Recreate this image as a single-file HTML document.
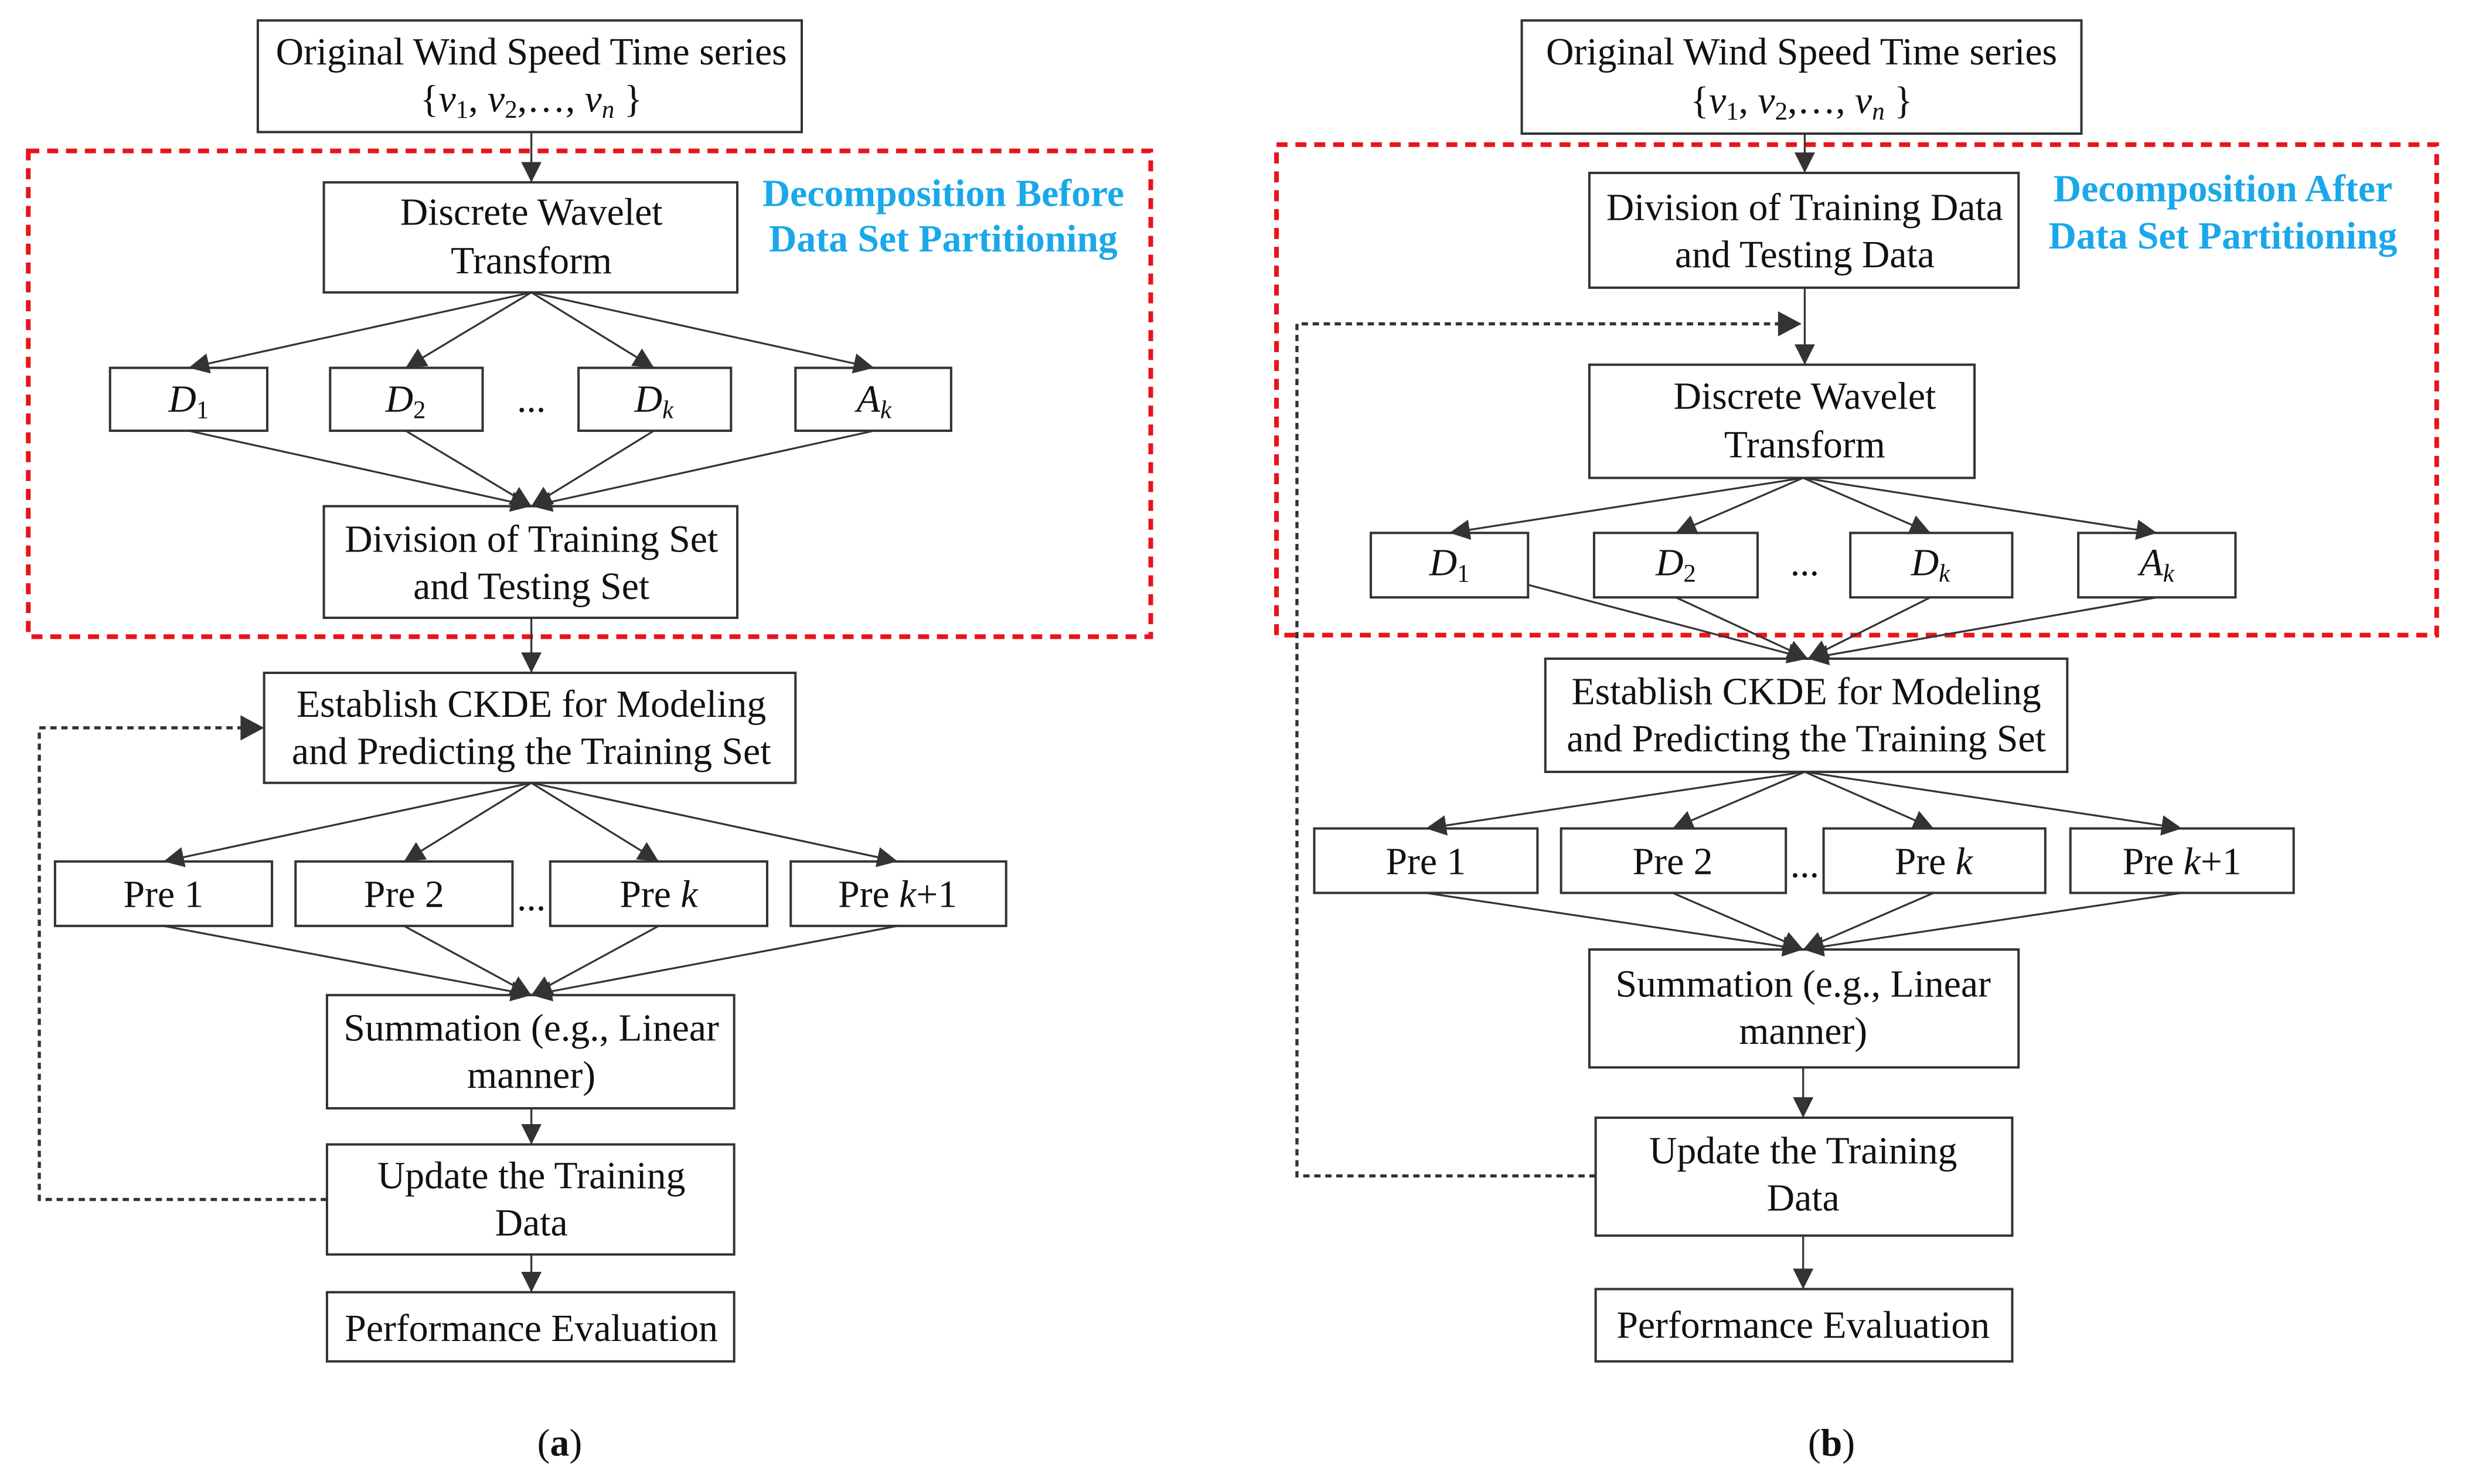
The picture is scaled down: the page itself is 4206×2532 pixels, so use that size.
<!DOCTYPE html>
<html><head><meta charset="utf-8"><style>
html,body{margin:0;padding:0;background:#fff;}
svg{display:block;}
text{font-family:"Liberation Serif",serif;font-size:24.5px;fill:#111;}
.b{font-family:"Liberation Serif",serif;font-weight:bold;fill:#1aa8ea;font-size:24.5px;}
</style></head><body>
<svg width="4206" height="2532" viewBox="0 0 1568 944" preserveAspectRatio="none" xmlns="http://www.w3.org/2000/svg">
<defs>
<marker id="a" viewBox="0 0 10 10" refX="10" refY="5" markerWidth="13" markerHeight="13" markerUnits="userSpaceOnUse" orient="auto"><path d="M0,0 L10,5 L0,10 z" fill="#333"/></marker>
</defs>
<g fill="none" stroke="#333" stroke-width="1.5">
<rect x="164" y="13" width="346" height="71"/>
<rect x="206" y="116" width="263" height="70"/>
<rect x="70" y="234" width="100" height="40"/>
<rect x="210" y="234" width="97" height="40"/>
<rect x="368" y="234" width="97" height="40"/>
<rect x="506" y="234" width="99" height="40"/>
<rect x="206" y="322" width="263" height="71"/>
<rect x="168" y="428" width="338" height="70"/>
<rect x="35" y="548" width="138" height="41"/>
<rect x="188" y="548" width="138" height="41"/>
<rect x="350" y="548" width="138" height="41"/>
<rect x="503" y="548" width="137" height="41"/>
<rect x="208" y="633" width="259" height="72"/>
<rect x="208" y="728" width="259" height="70"/>
<rect x="208" y="822" width="259" height="44"/>
<rect x="968" y="13" width="356" height="72"/>
<rect x="1011" y="110" width="273" height="73"/>
<rect x="1011" y="232" width="245" height="72"/>
<rect x="872" y="339" width="100" height="41"/>
<rect x="1014" y="339" width="104" height="41"/>
<rect x="1177" y="339" width="103" height="41"/>
<rect x="1322" y="339" width="100" height="41"/>
<rect x="983" y="419" width="332" height="72"/>
<rect x="836" y="527" width="142" height="41"/>
<rect x="993" y="527" width="143" height="41"/>
<rect x="1160" y="527" width="141" height="41"/>
<rect x="1317" y="527" width="142" height="41"/>
<rect x="1011" y="604" width="273" height="75"/>
<rect x="1015" y="711" width="265" height="75"/>
<rect x="1015" y="820" width="265" height="46"/>
</g>
<g fill="none" stroke="#e8141c" stroke-width="3" stroke-dasharray="7,5">
<rect x="18" y="96" width="714" height="309"/>
<rect x="812" y="92" width="738" height="312"/>
</g>
<g stroke="#333" stroke-width="1.2" marker-end="url(#a)">
<line x1="338" y1="84" x2="338" y2="116"/>
<line x1="338" y1="186" x2="120" y2="234"/>
<line x1="338" y1="186" x2="258" y2="234"/>
<line x1="338" y1="186" x2="416" y2="234"/>
<line x1="338" y1="186" x2="556" y2="234"/>
<line x1="120" y1="274" x2="338" y2="322"/>
<line x1="258" y1="274" x2="338" y2="322"/>
<line x1="416" y1="274" x2="338" y2="322"/>
<line x1="556" y1="274" x2="338" y2="322"/>
<line x1="338" y1="393" x2="338" y2="428"/>
<line x1="338" y1="498" x2="104" y2="548"/>
<line x1="338" y1="498" x2="257" y2="548"/>
<line x1="338" y1="498" x2="419" y2="548"/>
<line x1="338" y1="498" x2="571" y2="548"/>
<line x1="104" y1="589" x2="338" y2="633"/>
<line x1="257" y1="589" x2="338" y2="633"/>
<line x1="419" y1="589" x2="338" y2="633"/>
<line x1="571" y1="589" x2="338" y2="633"/>
<line x1="338" y1="705" x2="338" y2="728"/>
<line x1="338" y1="798" x2="338" y2="822"/>
<line x1="1148" y1="85" x2="1148" y2="110"/>
<line x1="1148" y1="183" x2="1148" y2="232"/>
<line x1="1147" y1="304" x2="922" y2="339"/>
<line x1="1147" y1="304" x2="1066" y2="339"/>
<line x1="1147" y1="304" x2="1228" y2="339"/>
<line x1="1147" y1="304" x2="1372" y2="339"/>
<line x1="972" y1="372" x2="1150" y2="419"/>
<line x1="1066" y1="380" x2="1150" y2="419"/>
<line x1="1228" y1="380" x2="1150" y2="419"/>
<line x1="1372" y1="380" x2="1150" y2="419"/>
<line x1="1148" y1="491" x2="907" y2="527"/>
<line x1="1148" y1="491" x2="1064" y2="527"/>
<line x1="1148" y1="491" x2="1230" y2="527"/>
<line x1="1148" y1="491" x2="1388" y2="527"/>
<line x1="907" y1="568" x2="1147" y2="604"/>
<line x1="1064" y1="568" x2="1147" y2="604"/>
<line x1="1230" y1="568" x2="1147" y2="604"/>
<line x1="1388" y1="568" x2="1147" y2="604"/>
<line x1="1147" y1="679" x2="1147" y2="711"/>
<line x1="1147" y1="786" x2="1147" y2="820"/>
</g>
<g fill="none" stroke="#333" stroke-width="2" stroke-dasharray="4,3">
<polyline points="208,763 25,763 25,463 155,463"/>
<polyline points="1015,748 825,748 825,206 1135,206"/>
</g>
<path d="M153,455 L168,463 L153,471 z" fill="#333"/>
<path d="M1131,198 L1146,206 L1131,214 z" fill="#333"/>
<g text-anchor="middle">
<text x="338" y="41">Original Wind Speed Time series</text>
<text x="338" y="71">{<tspan font-style="italic">v</tspan><tspan font-size="16" dy="4">1</tspan><tspan dy="-4">, </tspan><tspan font-style="italic">v</tspan><tspan font-size="16" dy="4">2</tspan><tspan dy="-4">,…, </tspan><tspan font-style="italic">v</tspan><tspan font-size="16" font-style="italic" dy="4">n</tspan><tspan dy="-4"> }</tspan></text>
<text x="338" y="143">Discrete Wavelet</text>
<text x="338" y="174">Transform</text>
<text class="b" x="600" y="131">Decomposition Before</text>
<text class="b" x="600" y="160">Data Set Partitioning</text>
<text x="120" y="262" font-style="italic">D<tspan font-size="16" font-style="normal" dy="4">1</tspan></text>
<text x="258" y="262" font-style="italic">D<tspan font-size="16" font-style="normal" dy="4">2</tspan></text>
<text x="338" y="262">...</text>
<text x="416" y="262" font-style="italic">D<tspan font-size="16" dy="4">k</tspan></text>
<text x="556" y="262" font-style="italic">A<tspan font-size="16" dy="4">k</tspan></text>
<text x="338" y="351">Division of Training Set</text>
<text x="338" y="381">and Testing Set</text>
<text x="338" y="456">Establish CKDE for Modeling</text>
<text x="338" y="486">and Predicting the Training Set</text>
<text x="104" y="577">Pre 1</text>
<text x="257" y="577">Pre 2</text>
<text x="338" y="579">...</text>
<text x="419" y="577">Pre <tspan font-style="italic">k</tspan></text>
<text x="571" y="577">Pre <tspan font-style="italic">k</tspan>+1</text>
<text x="338" y="662">Summation (e.g., Linear</text>
<text x="338" y="692">manner)</text>
<text x="338" y="756">Update the Training</text>
<text x="338" y="786">Data</text>
<text x="338" y="853">Performance Evaluation</text>
<text x="356" y="926">(<tspan font-weight="bold">a</tspan>)</text>

<text x="1146" y="41">Original Wind Speed Time series</text>
<text x="1146" y="72">{<tspan font-style="italic">v</tspan><tspan font-size="16" dy="4">1</tspan><tspan dy="-4">, </tspan><tspan font-style="italic">v</tspan><tspan font-size="16" dy="4">2</tspan><tspan dy="-4">,…, </tspan><tspan font-style="italic">v</tspan><tspan font-size="16" font-style="italic" dy="4">n</tspan><tspan dy="-4"> }</tspan></text>
<text x="1148" y="140">Division of Training Data</text>
<text x="1148" y="170">and Testing Data</text>
<text class="b" x="1414" y="128">Decomposition After</text>
<text class="b" x="1414" y="158">Data Set Partitioning</text>
<text x="1148" y="260">Discrete Wavelet</text>
<text x="1148" y="291">Transform</text>
<text x="922" y="366" font-style="italic">D<tspan font-size="16" font-style="normal" dy="4">1</tspan></text>
<text x="1066" y="366" font-style="italic">D<tspan font-size="16" font-style="normal" dy="4">2</tspan></text>
<text x="1148" y="366">...</text>
<text x="1228" y="366" font-style="italic">D<tspan font-size="16" dy="4">k</tspan></text>
<text x="1372" y="366" font-style="italic">A<tspan font-size="16" dy="4">k</tspan></text>
<text x="1149" y="448">Establish CKDE for Modeling</text>
<text x="1149" y="478">and Predicting the Training Set</text>
<text x="907" y="556">Pre 1</text>
<text x="1064" y="556">Pre 2</text>
<text x="1148" y="558">...</text>
<text x="1230" y="556">Pre <tspan font-style="italic">k</tspan></text>
<text x="1388" y="556">Pre <tspan font-style="italic">k</tspan>+1</text>
<text x="1147" y="634">Summation (e.g., Linear</text>
<text x="1147" y="664">manner)</text>
<text x="1147" y="740">Update the Training</text>
<text x="1147" y="770">Data</text>
<text x="1147" y="851">Performance Evaluation</text>
<text x="1165" y="926">(<tspan font-weight="bold">b</tspan>)</text>
</g>
</svg>
</body></html>
